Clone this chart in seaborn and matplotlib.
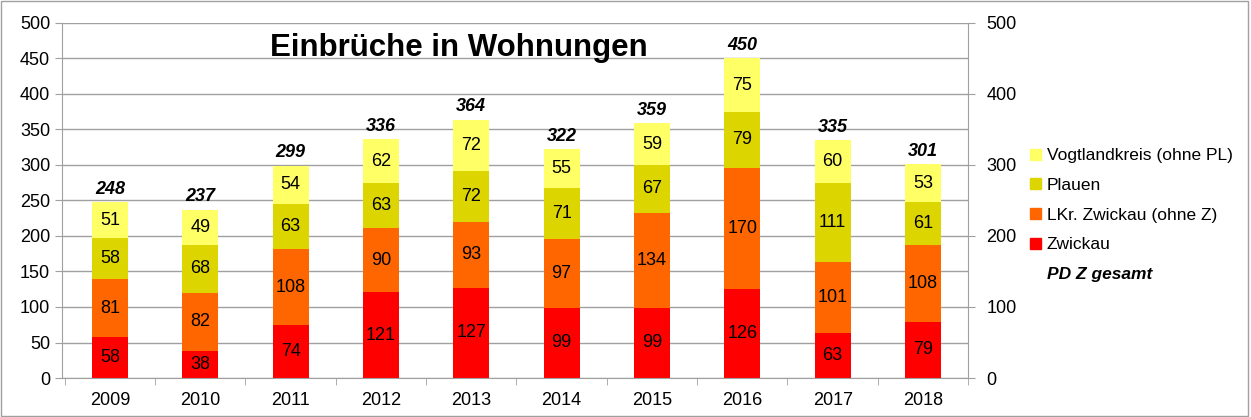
import matplotlib
matplotlib.use("Agg")
import matplotlib.pyplot as plt
import seaborn as sns
import numpy as np
import pandas as pd
from matplotlib.patches import Rectangle
from matplotlib.lines import Line2D

years = ["2009", "2010", "2011", "2012", "2013", "2014", "2015", "2016", "2017", "2018"]
zwickau = [58, 38, 74, 121, 127, 99, 99, 126, 63, 79]
lkr_zwickau = [81, 82, 108, 90, 93, 97, 134, 170, 101, 108]
plauen = [58, 68, 63, 63, 72, 71, 67, 79, 111, 61]
vogtland = [51, 49, 54, 62, 72, 55, 59, 75, 60, 53]
totals = [248, 237, 299, 336, 364, 322, 359, 450, 335, 301]

series = [
    ("Zwickau", zwickau, "#ff0000"),
    ("LKr. Zwickau (ohne Z)", lkr_zwickau, "#ff6600"),
    ("Plauen", plauen, "#ddd500"),
    ("Vogtlandkreis (ohne PL)", vogtland, "#ffff66"),
]

sns.set_style("white")
plt.rcParams["font.family"] = ["Liberation Sans", "DejaVu Sans"]
plt.rcParams["text.color"] = "black"
plt.rcParams["xtick.color"] = "black"
plt.rcParams["ytick.color"] = "black"

fs = 13

fig = plt.figure(figsize=(12.51, 4.17), dpi=100)
ax = fig.add_axes([0.0496, 0.0935, 0.7243, 0.8515])

bottom = np.zeros(len(years))
for name, vals, color in series:
    df = pd.DataFrame({"year": years, "n": vals})
    sns.barplot(data=df, x="year", y="n", color=color, width=0.4,
                bottom=bottom.copy(), ax=ax, saturation=1, linewidth=0)
    for i, v in enumerate(vals):
        ax.text(i, bottom[i] + v / 2, str(v), ha="center", va="center",
                fontsize=fs, color="black")
    bottom += np.array(vals)

for i, t in enumerate(totals):
    ax.text(i, t + 6, str(t), ha="center", va="bottom", fontsize=fs,
            fontweight="bold", fontstyle="italic")

ax.set_ylim(0, 500)
ax.set_xlim(-0.53, len(years) - 0.51)
ax.set_yticks(range(0, 501, 50))
ax.yaxis.grid(True, color="#a0a0a0", linewidth=1)
ax.set_axisbelow(True)
ax.set_xlabel("")
ax.set_ylabel("")
ax.tick_params(axis="y", labelsize=fs, length=5, color="#a0a0a0", labelcolor="black", left=True)
ax.tick_params(axis="x", labelsize=fs, length=0, pad=10, labelcolor="black")
ax.set_xticks(np.arange(-0.5, len(years) - 0.4, 1), minor=True)
ax.tick_params(axis="x", which="minor", length=5, color="#a0a0a0", bottom=True)
for s in ["left", "right", "bottom"]:
    ax.spines[s].set_color("#a0a0a0")
ax.spines["top"].set_visible(False)

ax2 = ax.twinx()
ax2.set_ylim(0, 500)
ax2.set_yticks(range(0, 501, 100))
ax2.tick_params(axis="y", labelsize=fs, length=5, color="#a0a0a0", labelcolor="black",
                right=True, pad=8)
for s in ["left", "right", "bottom", "top"]:
    ax2.spines[s].set_visible(False)

ax.text(0.438, 0.93, "Einbrüche in Wohnungen", transform=ax.transAxes,
        ha="center", va="center", fontsize=22.5, fontweight="bold")

handles = [Rectangle((0, 0), 1, 1, color=c) for _, _, c in series[::-1]]
labels = [n for n, _, _ in series[::-1]]
handles.append(Line2D([], [], linestyle="none"))
labels.append("PD Z gesamt")
leg = fig.legend(handles, labels, loc="center left", bbox_to_anchor=(0.811, 0.484),
                 frameon=False, fontsize=12.5, handlelength=0.6, handleheight=0.6,
                 handletextpad=0.35, labelspacing=0.85, labelcolor="black")
leg.get_texts()[-1].set_fontweight("bold")
leg.get_texts()[-1].set_fontstyle("italic")

fig.patches.append(Rectangle((0.001, 0.002), 0.997, 0.995, transform=fig.transFigure,
                             fill=False, edgecolor="#a0a0a0", linewidth=1))

fig.savefig("out.png", dpi=100)
